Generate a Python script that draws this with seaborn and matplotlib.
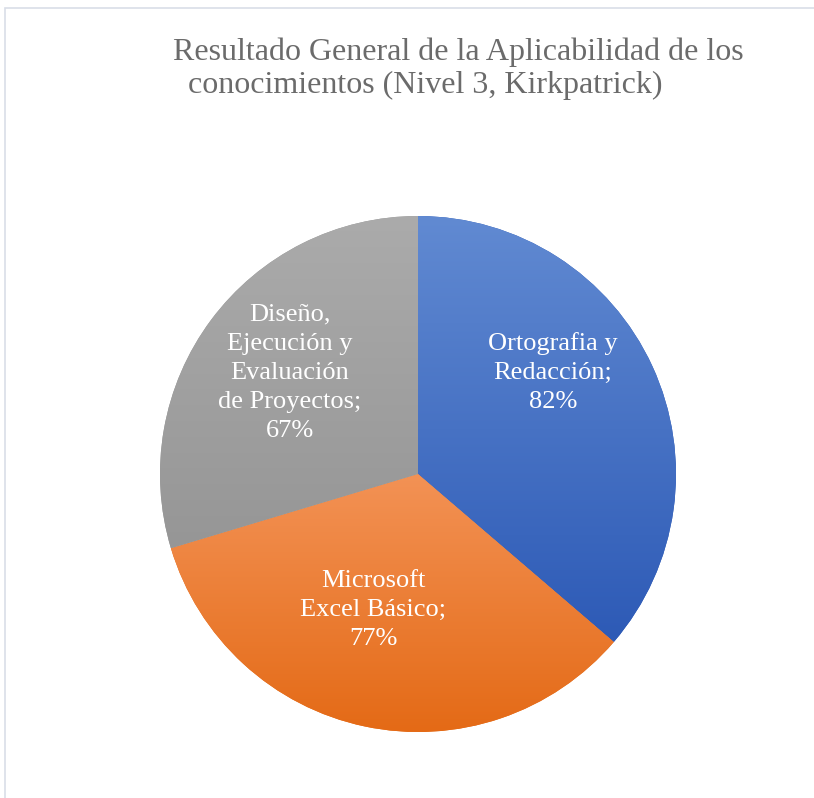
import numpy as np
import matplotlib
matplotlib.use("Agg")
import matplotlib.pyplot as plt
import matplotlib.patches as mpatches
from matplotlib.colors import LinearSegmentedColormap
import seaborn as sns

# data
categorias = ["Ortografia y\nRedacción", "Microsoft\nExcel Básico",
              "Diseño,\nEjecución y\nEvaluación\nde Proyectos"]
valores = [82, 77, 67]
titulo_l1 = "Resultado General de la Aplicabilidad de los"
titulo_l2 = "conocimientos (Nivel 3, Kirkpatrick)"

# gradient colours per slice (top -> bottom)
grad = [("#618AD2", "#2D5AB6"), ("#F39255", "#E46A16"), ("#ABABAB", "#969696")]
# label positions inside the pie (fraction of radius)
label_pos = [(0.523, 0.392), (-0.174, -0.527), (-0.496, 0.392)]

sns.set_theme(style="white")
plt.rcParams["font.family"] = ["Liberation Serif", "DejaVu Serif"]

fig = plt.figure(figsize=(8.14, 7.98), dpi=100)
ax = fig.add_axes([160 / 814, 66 / 798, 516 / 814, 516 / 798])

wedges, _ = ax.pie(valores, startangle=90, counterclock=False, radius=1,
                   colors=sns.color_palette([g[1] for g in grad]),
                   wedgeprops=dict(linewidth=0))

# vertical gradient inside every slice
for w, (c_top, c_bot) in zip(wedges, grad):
    ext = w.get_path().get_extents()
    cmap = LinearSegmentedColormap.from_list("g", [c_bot, c_top])
    arr = np.linspace(0, 1, 256).reshape(-1, 1)
    im = ax.imshow(arr, cmap=cmap, aspect="auto", origin="lower",
                   extent=[ext.x0, ext.x1, ext.y0, ext.y1], zorder=2,
                   interpolation="bilinear")
    im.set_clip_path(w)

for cat, v, (x, y) in zip(categorias, valores, label_pos):
    ax.text(x, y, f"{cat};\n{v}%", ha="center", va="center", color="white",
            fontsize=19, linespacing=1.42, zorder=3)

ax.set_xlim(-1, 1)
ax.set_ylim(-1, 1)
ax.set_aspect("equal")
ax.axis("off")

fig.text(173 / 814, 1 - 60 / 798, titulo_l1, ha="left", va="baseline",
         fontsize=23, color="#6B6B6B")
fig.text(188 / 814, 1 - 93 / 798, titulo_l2, ha="left", va="baseline",
         fontsize=23, color="#6B6B6B")

# chart area frame (partly cut off on right and bottom)
fig.add_artist(mpatches.Rectangle((5 / 814, -0.5), 2, 1.5 - 8 / 798,
                                  transform=fig.transFigure, fill=False,
                                  edgecolor="#D9DEE7", linewidth=1.2))

fig.savefig("out.png", dpi=100)
